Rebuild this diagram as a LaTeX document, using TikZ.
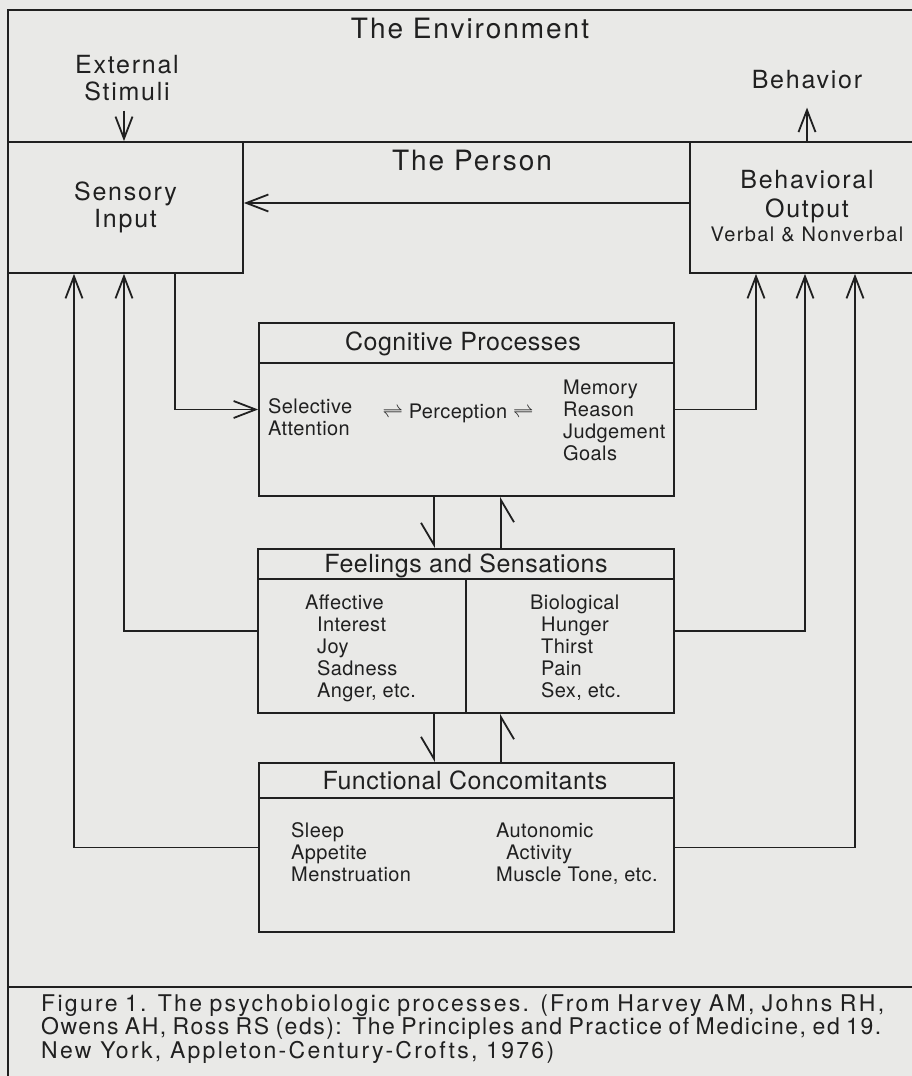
\documentclass[tikz,border=0pt]{standalone}
\usepackage{fontspec}
\setmainfont{TeX Gyre Heros}
\newfontfamily\trkwide[LetterSpace=7]{TeX Gyre Heros}
\newfontfamily\trknarrow[LetterSpace=2]{TeX Gyre Heros}
\newfontfamily\trkcap[LetterSpace=10]{TeX Gyre Heros}
\newfontfamily\trkcaptight[LetterSpace=6.5]{TeX Gyre Heros}
\usetikzlibrary{arrows.meta}
\definecolor{paper}{RGB}{233,233,231}
\definecolor{ink}{RGB}{32,32,32}
\tikzset{
  lbl/.style={inner sep=0pt, text=ink},
  envlbl/.style={lbl, font=\trkwide\fontsize{28}{32}\selectfont},
  midlbl/.style={lbl, align=center, font=\trkwide\fontsize{25}{27}\selectfont},
  sublbl/.style={lbl, font=\trkwide\fontsize{20}{24}\selectfont},
  hdr/.style={lbl, font=\trknarrow\fontsize{25}{28}\selectfont},
  body/.style={lbl, align=left, font=\trknarrow\fontsize{20}{22}\selectfont},
  capt/.style={lbl, align=left, font=\trkcap\fontsize{23}{21}\selectfont},
  panel/.style={draw=ink, line width=1.8pt, inner sep=0pt},
  wire/.style={draw=ink, line width=1.8pt},
  arr/.style={wire, -{Straight Barb[length=22pt,width=17pt]}},
  harp/.style={wire, -{Straight Barb[harpoon,swap,length=22pt,width=26pt]}}
}
\begin{document}
\begin{tikzpicture}[x=1pt,y=-1pt]
\useasboundingbox (0,0) rectangle (912,1076);
\fill[paper] (0,0) rectangle (912,1076);
\clip (0,0) rectangle (912,1076);

% frame
\draw[wire] (920,10) -- (8,10) -- (8,1080);
\draw[wire] (8,142) -- (920,142);
\draw[wire] (8,987) -- (920,987);

% labels in the environment (anchor base = baseline of last line)
\node[envlbl, anchor=base] (envl) at (470,38) {The Environment};
\node[envlbl, anchor=base] (pers) at (472,170) {The Person};
\node[midlbl, anchor=base] (ext) at (127,100) {External\\Stimuli};
\node[midlbl, anchor=base] (behav) at (807,88) {Behavior};

% sensory input / behavioral output
\node[panel, midlbl, minimum width=235pt, minimum height=131pt] (sens) at (125.5,207.5) {Sensory\\Input};
\node[panel, minimum width=234pt, minimum height=131pt] (bout) at (807,207.5) {};
\node[lbl, align=center, font=\trkwide\fontsize{25}{29}\selectfont, anchor=base] (boutt) at (807,217) {Behavioral\\Output};
\node[sublbl, anchor=base] (boutv) at (807,241) {Verbal \& Nonverbal};

% cognitive processes
\node[panel, minimum width=415pt, minimum height=173pt] (cog) at (466.5,409.5) {};
\draw[wire] ([yshift=-41pt]cog.north west) -- ([yshift=-41pt]cog.north east);
\node[hdr, anchor=base] (cogh) at (463,350) {Cognitive Processes};
\node[body, anchor=base west] (cogl) at (268,435) {Selective\\Attention};
\node[body, anchor=base] (cogm) at (458,418) {$\rightleftharpoons$ Perception $\rightleftharpoons$};
\node[body, anchor=base west] (cogr) at (563,460) {Memory\\Reason\\Judgement\\Goals};

% feelings and sensations
\node[panel, minimum width=416pt, minimum height=164pt] (feel) at (466,631) {};
\draw[wire] ([yshift=-31pt]feel.north west) -- ([yshift=-31pt]feel.north east);
\draw[wire] ([yshift=-31pt]feel.north) -- (feel.south);
\node[hdr, anchor=base] (feelh) at (466,572) {Feelings and Sensations};
\node[body, anchor=base west] (fa) at (305,697) {Affective\\\hspace*{12pt}Interest\\\hspace*{12pt}Joy\\\hspace*{12pt}Sadness\\\hspace*{12pt}Anger, etc.};
\node[body, anchor=base west] (fb) at (530,697) {Biological\\\hspace*{11pt}Hunger\\\hspace*{11pt}Thirst\\\hspace*{11pt}Pain\\\hspace*{11pt}Sex, etc.};

% functional concomitants
\node[panel, minimum width=415pt, minimum height=169pt] (fun) at (466.5,847.5) {};
\draw[wire] ([yshift=-36pt]fun.north west) -- ([yshift=-36pt]fun.north east);
\node[hdr, anchor=base] (funh) at (465,789) {Functional Concomitants};
\node[body, anchor=base west] (fl) at (291,881) {Sleep\\Appetite\\Menstruation};
\node[body, anchor=base west] (fr) at (496,881) {Autonomic\\\hspace*{10pt}Activity\\Muscle Tone, etc.};

% caption
\node[capt, anchor=base west] (cap) at (41,1058) {\makebox[843pt][s]{Figure 1. The psychobiologic processes. (From Harvey AM, Johns RH,}\\\makebox[840pt][s]{\trkcaptight\fontsize{23}{21}\selectfont\spaceskip=5pt plus 4pt minus 2pt\relax Owens AH, Ross RS (eds): The Principles and Practice of Medicine, ed 19.}\\New York, Appleton-Century-Crofts, 1976)};

% x / y positions of connectors
\coordinate (xL1) at (74,0);
\coordinate (xL2) at (124,0);
\coordinate (xS) at (175,0);
\coordinate (xR1) at (756,0);
\coordinate (xR2) at (805,0);
\coordinate (xR3) at (855,0);
\coordinate (xA) at (434,0);
\coordinate (xB) at (501,0);
\coordinate (yH) at (0,203);

% connectors
\draw[arr, shorten <=10pt] (ext.south -| xL2) -- (sens.north -| xL2);
\draw[arr, shorten >=19pt] (bout.north -| behav.south) -- (behav.south);
\draw[arr] (bout.west |- yH) -- (sens.east |- yH);
\draw[arr] (sens.south -| xS) |- (cog.west);
\draw[arr] (cog.east) -| (bout.south -| xR1);
\draw[arr] (feel.east) -| (bout.south -| xR2);
\draw[arr] (fun.east) -| (bout.south -| xR3);
\draw[arr] (feel.west) -| (sens.south -| xL2);
\draw[arr] (fun.west) -| (sens.south -| xL1);
\draw[harp] (cog.south -| xA) -- (feel.north -| xA);
\draw[harp] (feel.north -| xB) -- (cog.south -| xB);
\draw[harp] (feel.south -| xA) -- (fun.north -| xA);
\draw[harp] (fun.north -| xB) -- (feel.south -| xB);
\end{tikzpicture}
\end{document}
